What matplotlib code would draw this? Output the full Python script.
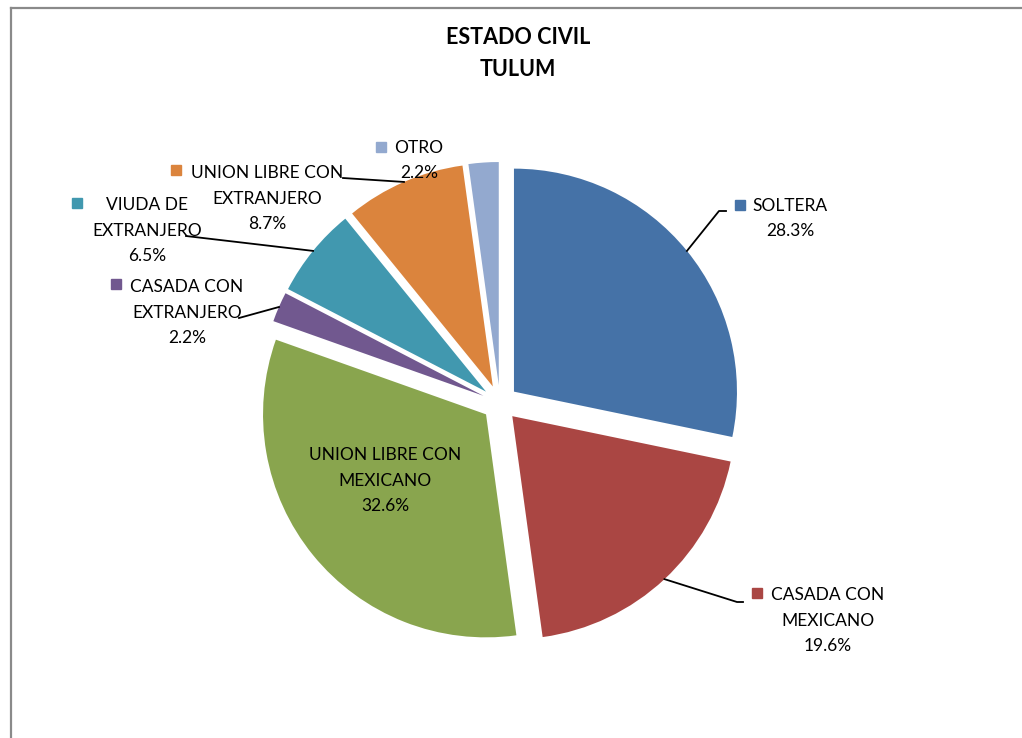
import matplotlib.pyplot as plt
from matplotlib.lines import Line2D
import numpy as np

plt.rcParams['font.family'] = ['Lato', 'DejaVu Sans']

# data: 46 respondents, Tulum
labels = ['SOLTERA', 'CASADA CON\nMEXICANO', 'UNION LIBRE CON\nMEXICANO',
          'CASADA CON\nEXTRANJERO', 'VIUDA DE\nEXTRANJERO',
          'UNION LIBRE CON\nEXTRANJERO', 'OTRO']
counts = [13, 9, 15, 1, 3, 4, 1]
colors = ['#4572A7', '#AA4643', '#89A54E', '#71588F', '#4198AF', '#DB843D', '#93A9CF']

W, H = 1022, 738

# label layout in image pixels: text centre x, first line y, key square (x, y) or None
text_x = [790, 828, 385, 187, 147, 267, 419]
text_y = [206, 595, 455, 287, 205, 173, 148]
key_xy = [(740, 205), (757, 593), None, (116, 284), (77, 203), (176, 170), (381, 147)]
# leader line end points (image pixels), None = no leader
leader_end = [[(719, 211), (726, 211)], [(737, 602), (743, 602)], None,
              [(239, 318)], [(186, 236)], [(343, 178)], None]

fig = plt.figure(figsize=(W / 100, H / 100), dpi=100)
ax = fig.add_axes([0, 0, 1, 1])

def Y(y):
    return H - y

# explode is in data units here (pixels), about 8% of the radius
wedges, _ = ax.pie(counts, colors=colors, startangle=90, counterclock=False,
                   radius=223, center=(500, Y(403)), explode=[18] * len(counts),
                   wedgeprops=dict(linewidth=0))

total = sum(counts)
line_h = 25.5
for i, w in enumerate(wedges):
    pct = f'{counts[i] / total * 100:.1f}%'
    lines = labels[i].split('\n') + [pct]
    for k, s in enumerate(lines):
        ax.text(text_x[i], Y(text_y[i] + k * line_h), s, ha='center', va='center',
                fontsize=12.5, color='black')
    if key_xy[i] is not None:
        ax.plot(key_xy[i][0], Y(key_xy[i][1]), marker='s', markersize=7,
                color=colors[i], linestyle='none')
    if leader_end[i] is not None:
        mid = np.deg2rad((w.theta1 + w.theta2) / 2)
        cx, cy = w.center
        xs = [cx + w.r * np.cos(mid)] + [p[0] for p in leader_end[i]]
        ys = [cy + w.r * np.sin(mid)] + [Y(p[1]) for p in leader_end[i]]
        ax.plot(xs, ys, color='black', linewidth=1.3)

ax.text(518, Y(37), 'ESTADO CIVIL', ha='center', va='center', fontsize=15.5, fontweight='bold')
ax.text(518, Y(70), 'TULUM', ha='center', va='center', fontsize=15.5, fontweight='bold')

ax.set_xlim(0, W)
ax.set_ylim(0, H)
ax.set_aspect('equal')
ax.axis('off')

# chart frame (right and bottom edges fall outside the picture)
fig.add_artist(Line2D([10.5 / W, 10.5 / W], [0, 1 - 8 / H], transform=fig.transFigure,
                      color='#8a8a8a', linewidth=1.6))
fig.add_artist(Line2D([10.5 / W, 1], [1 - 8 / H, 1 - 8 / H], transform=fig.transFigure,
                      color='#8a8a8a', linewidth=1.6))

fig.savefig('out.png', dpi=100)
